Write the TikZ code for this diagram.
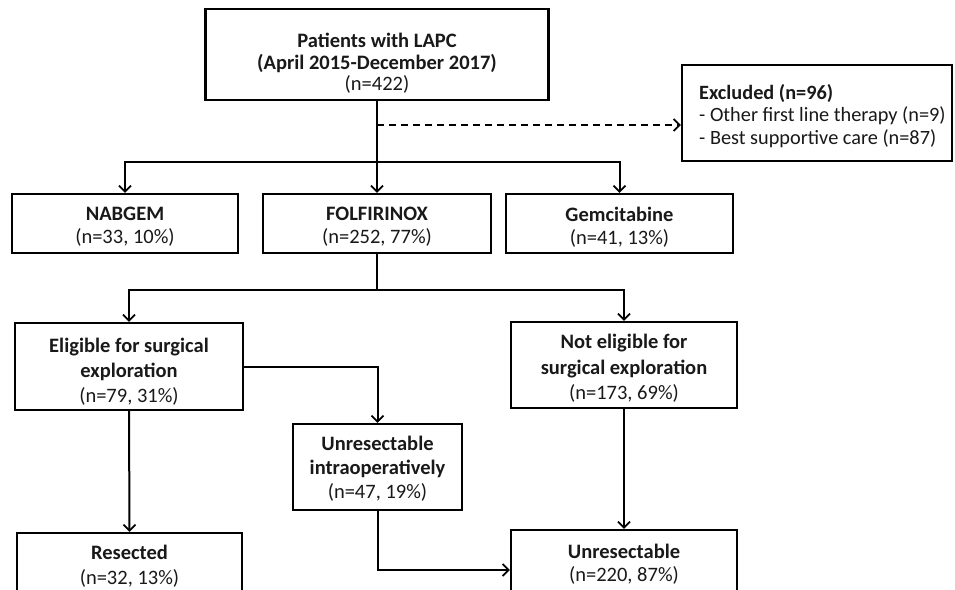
\documentclass[tikz,border=0pt]{standalone}
\usepackage{fontspec}
\setmainfont{Carlito}
\usetikzlibrary{arrows.meta,calc}
\begin{document}
\begin{tikzpicture}[x=1pt,y=-1pt,
  box/.style={draw=black,line width=2.3pt,fill=white,inner sep=0pt},
  txt/.style={align=center,inner sep=0pt,text=black!90,font=\fontsize{20.5}{#1}\selectfont},
  txt/.default=23,
  conn/.style={line width=2pt,-{Straight Barb[length=6pt,width=12pt,line width=1.8pt]}},
  plain/.style={line width=2pt}]
\clip (0,0) rectangle (955,589);
\fill[white] (0,0) rectangle (955,589);
% boxes
\node[box,minimum width=343pt,minimum height=91pt] (top) at (377,54.5) {};
\node[box,minimum width=270pt,minimum height=96pt] (excl) at (817,113) {};
\node[box,minimum width=226pt,minimum height=59pt] (nab) at (125,223.5) {};
\node[box,minimum width=228pt,minimum height=59pt] (folf) at (377,223.5) {};
\node[box,minimum width=227pt,minimum height=59pt] (gem) at (619.5,223.5) {};
\node[box,minimum width=228pt,minimum height=87pt] (elig) at (129,366.5) {};
\node[box,minimum width=226pt,minimum height=86pt] (noelig) at (624,365) {};
\node[box,minimum width=169pt,minimum height=86pt] (intra) at (377.5,467) {};
\node[box,minimum width=225pt,minimum height=66pt] (res) at (129.5,566) {};
\node[box,minimum width=226pt,minimum height=68pt] (unres) at (624,564) {};
% texts
\node[txt=21.7] (topt) at (377,63.5)
  {\textbf{Patients with LAPC}\\\textbf{(April 2015-December 2017)}\\(n=422)};
\node[txt=22.5,align=left,anchor=west,font=\fontsize{20.3}{22.5}\selectfont] (exclt) at (699,116)
  {\textbf{Excluded (n=96)}\\- Other first line therapy (n=9)\\- Best supportive care (n=87)};
\node[txt] (nabt) at (125,226.5) {\textbf{NABGEM}\\(n=33, 10\%)};
\node[txt] (folft) at (377,227) {\textbf{FOLFIRINOX}\\(n=252, 77\%)};
\node[txt] (gemt) at (619.5,227.5) {\textbf{Gemcitabine}\\(n=41, 13\%)};
\node[txt=25] (eligt) at (129,372)
  {\textbf{Eligible for surgical}\\\textbf{exploration}\\(n=79, 31\%)};
\node[txt=25.5] (noeligt) at (624,368.5)
  {\textbf{Not eligible for}\\\textbf{surgical exploration}\\(n=173, 69\%)};
\node[txt=24] (intrat) at (377.5,469)
  {\textbf{Unresectable}\\\textbf{intraoperatively}\\(n=47, 19\%)};
\node[txt=24.5] (rest) at (129.5,566) {\textbf{Resected}\\(n=32, 13\%)};
\node[txt=23.5] (unrest) at (624,564) {\textbf{Unresectable}\\(n=220, 87\%)};
% connectors
\coordinate (b1) at (377,162);
\coordinate (d) at (377,125);
\coordinate (b2) at (377,290);
\draw[plain] (top.south) -- (b1);
\draw[conn,dash pattern=on 7pt off 5pt] (d) -- (d -| excl.west);
\draw[conn] (b1) -| (nab.north);
\draw[conn] (b1) -- (folf.north);
\draw[conn] (b1) -| (gem.north);
\draw[plain] (folf.south) -- (b2);
\draw[conn] (b2) -| (elig.north);
\draw[conn] (b2) -| (noelig.north);
\draw[conn] (elig.east) -| (intra.north);
\draw[conn] (elig.south) -- (res.north);
\draw[conn] (noelig.south) -- (unres.north);
\draw[conn] (intra.south) |- ([yshift=-6pt]unres.west);
\end{tikzpicture}
\end{document}
